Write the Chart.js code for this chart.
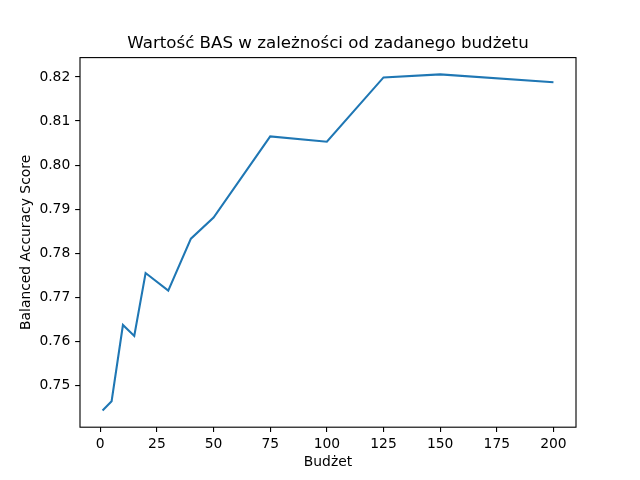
<!DOCTYPE html>
<html>
<head>
<meta charset="utf-8">
<script src="https://cdn.jsdelivr.net/npm/chart.js@4"></script>
<style>
  html, body { margin: 0; padding: 0; background: #fff; }
  #wrap { width: 640px; height: 480px; }
</style>
</head>
<body>
<div id="wrap"><canvas id="c" width="640" height="480"></canvas></div>
<script>
const budgets = [1, 5, 10, 15, 20, 30, 40, 50, 75, 100, 125, 150, 200];
const basValues = [0.7443, 0.7464, 0.7637, 0.7612, 0.7755, 0.7715, 0.7833, 0.7881, 0.8065, 0.8053, 0.8199, 0.8206, 0.8188];
const xTickValues = [0, 25, 50, 75, 100, 125, 150, 175, 200];
const yTickValues = [0.75, 0.76, 0.77, 0.78, 0.79, 0.80, 0.81, 0.82];
const titleText = 'Wartość BAS w zależności od zadanego budżetu';
const xLabel = 'Budżet';
const yLabel = 'Balanced Accuracy Score';

const FONT = 'DejaVu Sans';
const PT = 100 / 72;

const frame = {
  id: 'frame',
  afterDraw(chart) {
    const {ctx, chartArea: a} = chart;
    ctx.save();
    ctx.strokeStyle = '#000';
    ctx.lineWidth = 0.8 * PT;
    ctx.strokeRect(a.left, a.top, a.right - a.left, a.bottom - a.top);
    ctx.restore();
  }
};

new Chart(document.getElementById('c'), {
  type: 'line',
  data: {
    datasets: [{
      data: budgets.map((b, i) => ({x: b, y: basValues[i]})),
      borderColor: '#1f77b4',
      borderWidth: 1.5 * PT,
      pointRadius: 0,
      tension: 0,
      fill: false
    }]
  },
  options: {
    responsive: false,
    animation: false,
    devicePixelRatio: 1,
    layout: { padding: { left: 0, right: 64, top: 0, bottom: 0 } },
    plugins: {
      legend: { display: false },
      tooltip: { enabled: false },
      title: {
        display: true,
        text: titleText,
        fullSize: false,
        color: '#000',
        font: { family: FONT, size: 12 * PT, weight: 'normal', lineHeight: 1.2 },
        padding: { top: 34, bottom: 3.6 }
      }
    },
    scales: {
      x: {
        type: 'linear',
        min: -8.95,
        max: 209.95,
        afterFit(s) { s.height = 480 - 427.2; },
        afterBuildTicks(s) { s.ticks = xTickValues.map(v => ({value: v})); },
        border: { display: false },
        grid: { display: true, drawOnChartArea: false, drawTicks: true, tickLength: 3.5 * PT, color: '#000', lineWidth: 0.8 * PT },
        ticks: {
          color: '#000',
          padding: 3.5 * PT - 1,
          maxRotation: 0,
          font: { family: FONT, size: 10 * PT },
          callback: v => String(v)
        },
        title: {
          display: true,
          text: xLabel,
          color: '#000',
          font: { family: FONT, size: 10 * PT, lineHeight: 1.2 },
          padding: { top: 0, bottom: 9.3 }
        }
      },
      y: {
        type: 'linear',
        min: 0.7405,
        max: 0.8244,
        afterFit(s) { s.width = 80; },
        afterBuildTicks(s) { s.ticks = yTickValues.map(v => ({value: v})); },
        border: { display: false },
        grid: { display: true, drawOnChartArea: false, drawTicks: true, tickLength: 3.5 * PT, color: '#000', lineWidth: 0.8 * PT },
        ticks: {
          color: '#000',
          padding: 3.5 * PT,
          font: { family: FONT, size: 10 * PT },
          callback: v => v.toFixed(2)
        },
        title: {
          display: true,
          text: yLabel,
          color: '#000',
          font: { family: FONT, size: 10 * PT, lineHeight: 1.2 },
          padding: { top: 17.7, bottom: 0 }
        }
      }
    }
  },
  plugins: [frame]
});
</script>
</body>
</html>
